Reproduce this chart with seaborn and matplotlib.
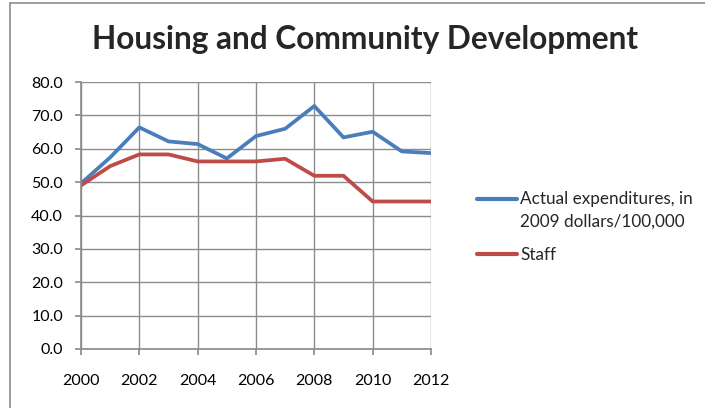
import matplotlib
matplotlib.use("Agg")
import matplotlib.pyplot as plt
import seaborn as sns
import pandas as pd
from matplotlib.ticker import FormatStrFormatter
from matplotlib.lines import Line2D
from matplotlib.legend_handler import HandlerLine2D

years = list(range(2000, 2013))
expenditures = [49.6, 57.4, 66.4, 62.2, 61.4, 57.1, 63.8, 66.0, 72.8, 63.4, 65.1, 59.2, 58.7]
staff = [49.0, 54.8, 58.3, 58.3, 56.2, 56.2, 56.2, 57.0, 51.9, 51.9, 44.2, 44.2, 44.2]
series_names = ["Actual expenditures, in\n2009 dollars/100,000", "Staff"]
colors = ["#4A7EBB", "#BE4B48"]

df = pd.DataFrame({
    "year": years * 2,
    "value": expenditures + staff,
    "series": [series_names[0]] * len(years) + [series_names[1]] * len(years),
})

sns.set_theme(style="white")
plt.rcParams["font.family"] = ["Lato", "DejaVu Sans"]

W, H = 705, 408
fig = plt.figure(figsize=(W / 100, H / 100), dpi=100)
x0, x1, y0, y1 = 81, 431, 82, 349
ax = fig.add_axes([x0 / W, 1 - y1 / H, (x1 - x0) / W, (y1 - y0) / H])

sns.lineplot(data=df, x="year", y="value", hue="series", palette=colors,
             linewidth=2.7, ax=ax, legend=True)

ax.set_xlim(2000, 2012)
ax.set_ylim(0, 80)
ax.set_xticks(range(2000, 2013, 2))
ax.set_yticks(range(0, 81, 10))
ax.yaxis.set_major_formatter(FormatStrFormatter("%.1f"))
ax.grid(True, color="#8c8c8c", linewidth=1.0)
ax.set_axisbelow(True)
for s in ax.spines.values():
    s.set_visible(False)
ax.spines["left"].set_visible(True)
ax.spines["bottom"].set_visible(True)
ax.spines["left"].set_color("#8c8c8c")
ax.spines["bottom"].set_color("#8c8c8c")
ax.tick_params(axis="both", which="both", length=4, color="#8c8c8c", labelsize=11.5,
               direction="out", left=True, bottom=True, labelcolor="black")
ax.tick_params(axis="y", pad=9)
ax.tick_params(axis="x", pad=14)
ax.set_xlabel("")
ax.set_ylabel("")


class ShiftedLine(HandlerLine2D):
    def __init__(self, dy=0.0, **kw):
        super().__init__(**kw)
        self.dy = dy

    def create_artists(self, legend, orig_handle, xdescent, ydescent, width, height,
                       fontsize, trans):
        return super().create_artists(legend, orig_handle, xdescent, ydescent - 2 * self.dy,
                                      width, height, fontsize, trans)


handles, labels = ax.get_legend_handles_labels()
hmap = {handles[0]: ShiftedLine(dy=8.6), handles[1]: ShiftedLine(dy=0.0)}
leg = ax.legend(handles, labels, handler_map=hmap, loc="upper left",
                bbox_to_anchor=(477 / W, 1 - 191 / H),
                bbox_transform=fig.transFigure, frameon=False,
                fontsize=12.3, handlelength=2.35, handletextpad=0.17,
                labelspacing=1.0, borderaxespad=0, borderpad=0)
for line in leg.get_lines():
    line.set_linewidth(3)
for t in leg.get_texts():
    t.set_linespacing(1.5)

fig.text(365 / W, 1 - 40 / H, "Housing and Community Development", ha="center", va="center",
         fontsize=22.8, fontweight="bold")

fig.add_artist(Line2D([10 / W, 10 / W], [0, 1 - 3 / H], transform=fig.transFigure,
                      color="#8c8c8c", linewidth=1.2))
fig.add_artist(Line2D([10 / W, 1], [1 - 3 / H, 1 - 3 / H], transform=fig.transFigure,
                      color="#8c8c8c", linewidth=1.2))

fig.savefig("out.png", dpi=100)
